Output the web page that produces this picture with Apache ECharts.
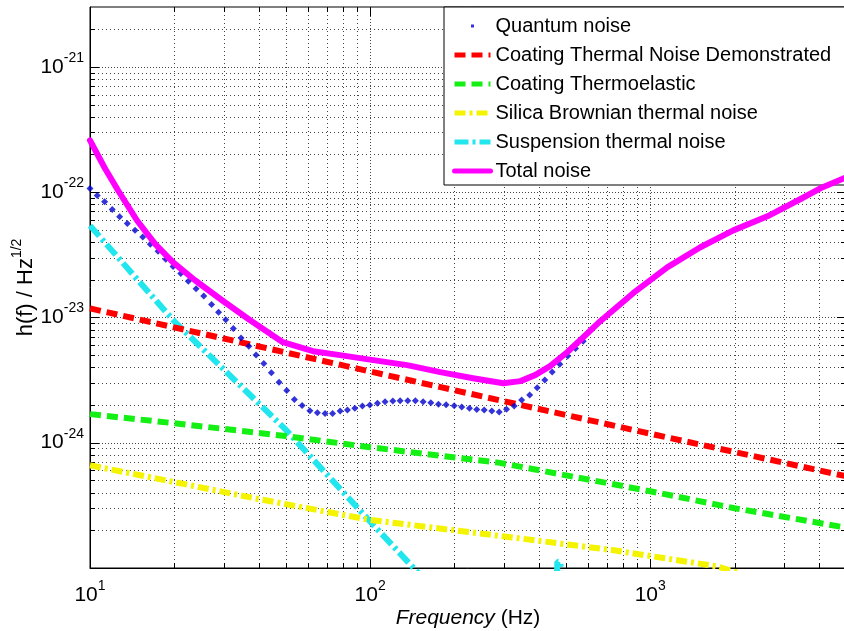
<!DOCTYPE html>
<html>
<head>
<meta charset="utf-8">
<script src="https://cdn.jsdelivr.net/npm/echarts@6/dist/echarts.min.js"></script>
<style>
  html, body { margin: 0; padding: 0; background: #fff; }
  #chart { width: 844px; height: 631px; }
</style>
</head>
<body>
<div id="chart"></div>
<script>
const X_MIN = 10, X_MAX = 5000;
const Y_MIN = 1e-25, Y_MAX = 3e-21;
const FONT = "'Liberation Sans', Arial, Helvetica, sans-serif";

// grid lines (value, major?)
const xGridValues = [20, 30, 40, 50, 60, 70, 80, 90, 100, 200, 300, 400, 500, 600, 700, 800, 900, 1000, 2000, 3000, 4000];
const xGridMajor = [100, 1000];
const yGridValues = [
  2e-25, 3e-25, 4e-25, 5e-25, 6e-25, 7e-25, 8e-25, 9e-25, 1e-24,
  2e-24, 3e-24, 4e-24, 5e-24, 6e-24, 7e-24, 8e-24, 9e-24, 1e-23,
  2e-23, 3e-23, 4e-23, 5e-23, 6e-23, 7e-23, 8e-23, 9e-23, 1e-22,
  2e-22, 3e-22, 4e-22, 5e-22, 6e-22, 7e-22, 8e-22, 9e-22, 1e-21,
  2e-21
];
const yGridMajor = [1e-24, 1e-23, 1e-22, 1e-21];

const seriesNames = [
  "Quantum noise",
  "Coating Thermal Noise Demonstrated",
  "Coating Thermoelastic",
  "Silica Brownian thermal noise",
  "Suspension thermal noise",
  "Total noise"
];

const quantumFreq = [10.0, 10.61, 11.28, 12.01, 12.76, 13.59, 14.48, 15.43, 16.42, 17.50, 18.64, 19.79, 21.09, 22.44, 23.91, 25.47, 27.17, 28.77, 30.52, 32.49, 34.62, 36.89, 39.17, 41.73, 44.41, 47.32, 50.41, 53.67, 57.18, 60.95, 64.82, 69.07, 73.46, 78.14, 82.98, 88.19, 93.87, 99.75, 106.2, 113.1, 120.5, 128.0, 136.3, 145.1, 154.6, 164.7, 175.4, 186.8, 199.6, 212.4, 226.3, 240.3, 255.4, 271.9, 288.9, 306.8, 326.8, 347.5, 371.3, 394.9, 420.4, 446.8, 475.6, 507.5, 541.1, 576.5];
const quantumNoise = [1.07e-22, 9.40e-23, 8.37e-23, 7.26e-23, 6.37e-23, 5.61e-23, 4.96e-23, 4.39e-23, 3.84e-23, 3.37e-23, 2.91e-23, 2.55e-23, 2.24e-23, 1.94e-23, 1.69e-23, 1.48e-23, 1.27e-23, 1.10e-23, 9.57e-24, 8.15e-24, 6.86e-24, 5.89e-24, 5.00e-24, 4.29e-24, 3.61e-24, 3.04e-24, 2.61e-24, 2.21e-24, 1.98e-24, 1.80e-24, 1.73e-24, 1.71e-24, 1.71e-24, 1.79e-24, 1.82e-24, 1.88e-24, 1.96e-24, 2.00e-24, 2.06e-24, 2.12e-24, 2.15e-24, 2.16e-24, 2.16e-24, 2.16e-24, 2.12e-24, 2.08e-24, 2.03e-24, 2.01e-24, 1.97e-24, 1.93e-24, 1.88e-24, 1.84e-24, 1.82e-24, 1.79e-24, 1.76e-24, 1.85e-24, 1.96e-24, 2.19e-24, 2.40e-24, 2.75e-24, 3.17e-24, 3.67e-24, 4.23e-24, 4.92e-24, 5.65e-24, 6.46e-24];

const coatingFreq = [10, 100, 1000, 5000];
const coatingNoise = [1.18e-23, 3.7e-24, 1.18e-24, 5.4e-25];

const thermoelasticFreq = [10, 20, 50, 100, 291, 1000, 2000, 5000];
const thermoelasticNoise = [1.69e-24, 1.43e-24, 1.13e-24, 9.2e-25, 6.9e-25, 4.1e-25, 3.0e-25, 2.1e-25];

const silicaFreq = [10, 20, 40, 100, 311, 731, 1733, 2500];
const silicaNoise = [6.6e-25, 4.85e-25, 3.55e-25, 2.42e-25, 1.77e-25, 1.39e-25, 1.03e-25, 8.0e-26];

const suspensionFreq = [10, 20, 50, 100, 143, 200, 300, 450, 466, 478, 495, 600];
const suspensionNoise = [5.4e-23, 9.3e-24, 1.27e-24, 2.35e-25, 1.0e-25, 4.5e-26, 1.7e-26, 6e-27, 1.12e-25, 1.12e-25, 5e-27, 3e-27];

const totalFreq = [10, 11.3, 12.6, 14.7, 17.1, 19.8, 23.7, 29.6, 37.3, 48.8, 62.5, 78.1, 102.6, 135.6, 178, 233, 299, 344, 388, 439, 505, 577, 663, 869, 1150, 1510, 1980, 2620, 3430, 4110, 5000];
const totalNoise = [2.59e-22, 1.55e-22, 1.03e-22, 5.96e-23, 3.84e-23, 2.75e-23, 1.98e-23, 1.37e-23, 9.5e-24, 6.34e-24, 5.37e-24, 5.0e-24, 4.56e-24, 4.16e-24, 3.66e-24, 3.27e-24, 2.98e-24, 3.1e-24, 3.46e-24, 4.08e-24, 5.27e-24, 6.95e-24, 9.33e-24, 1.56e-23, 2.51e-23, 3.63e-23, 4.95e-23, 6.41e-23, 8.77e-23, 1.09e-22, 1.31e-22];

function zip(xs, ys) {
  return xs.map((x, i) => [x, ys[i]]);
}

function powLabel(v) {
  const l = Math.log10(v);
  const e = Math.round(l);
  if (Math.abs(l - e) > 1e-6) return "";
  return "{b|10}{s|" + e + "}";
}

const gridData = [];
xGridValues.forEach(v => gridData.push([v, Y_MIN, 0, xGridMajor.indexOf(v) >= 0 ? 1 : 0]));
yGridValues.forEach(v => gridData.push([X_MIN, v, 1, yGridMajor.some(m => Math.abs(m - v) / m < 1e-9) ? 1 : 0]));

function renderGrid(params, api) {
  const cs = params.coordSys;
  const major = api.value(3) === 1;
  const len = major ? 9 : 5;
  const dotted = { stroke: "#444", lineWidth: 1, lineDash: major ? [1, 2] : [1, 3] };
  const solid = { stroke: "#000", lineWidth: 1 };
  const left = cs.x, right = cs.x + cs.width, top = cs.y, bottom = cs.y + cs.height;
  if (api.value(2) === 0) {
    const x = Math.round(api.coord([api.value(0), Y_MIN])[0]) + 0.5;
    return {
      type: "group",
      children: [
        { type: "line", shape: { x1: x, y1: top, x2: x, y2: bottom }, style: dotted },
        { type: "line", shape: { x1: x, y1: bottom, x2: x, y2: bottom - len }, style: solid },
        { type: "line", shape: { x1: x, y1: top, x2: x, y2: top + len }, style: solid }
      ]
    };
  }
  const y = Math.round(api.coord([X_MIN, api.value(1)])[1]) + 0.5;
  return {
    type: "group",
    children: [
      { type: "line", shape: { x1: left, y1: y, x2: right, y2: y }, style: dotted },
      { type: "line", shape: { x1: left, y1: y, x2: left + len, y2: y }, style: solid },
      { type: "line", shape: { x1: right, y1: y, x2: right - len, y2: y }, style: solid }
    ]
  };
}

// legend entry for a line series: just the stroke, no marker
function lineEntry(name) {
  return {
    name: name,
    itemStyle: { color: "rgba(0,0,0,0)", opacity: 0, borderWidth: 0 },
    lineStyle: { width: 5 }
  };
}

const chart = echarts.init(document.getElementById("chart"), null, { renderer: "canvas" });

chart.setOption({
  animation: false,
  backgroundColor: "#fff",
  textStyle: { fontFamily: FONT },
  grid: {
    left: 90,
    top: 7,
    width: 756,
    height: 561,
    show: true,
    borderColor: "#000",
    borderWidth: 1,
    backgroundColor: "#fff",
    containLabel: false,
    outerBoundsMode: "none"
  },
  legend: {
    orient: "vertical",
    left: 444,
    top: 7,
    itemWidth: 36,
    itemHeight: 14,
    itemGap: 9,
    padding: [9, 30, 4, 8],
    backgroundColor: "#fff",
    borderColor: "#000",
    borderWidth: 1,
    borderRadius: 0,
    selectedMode: false,
    textStyle: { fontSize: 20, color: "#000", fontFamily: FONT },
    data: [
      { name: seriesNames[0], icon: "path://M0,0M36,14M16.5,5.5L19.5,5.5L19.5,8.5L16.5,8.5Z" },
      lineEntry(seriesNames[1]),
      lineEntry(seriesNames[2]),
      lineEntry(seriesNames[3]),
      lineEntry(seriesNames[4]),
      lineEntry(seriesNames[5])
    ]
  },
  xAxis: {
    type: "log",
    logBase: 10,
    min: X_MIN,
    max: X_MAX,
    name: "{i|Frequency} (Hz)",
    nameLocation: "middle",
    nameGap: 40,
    nameMoveOverlap: false,
    nameTextStyle: {
      fontSize: 21,
      color: "#000",
      fontFamily: FONT,
      rich: { i: { fontSize: 21, fontStyle: "italic", color: "#000", fontFamily: FONT } }
    },
    axisLine: { show: true, lineStyle: { color: "#000", width: 1 } },
    axisTick: { show: false },
    splitLine: { show: false },
    axisLabel: {
      formatter: powLabel,
      margin: 11,
      color: "#000",
      showMaxLabel: false,
      rich: {
        b: { fontSize: 21, fontFamily: FONT, color: "#000" },
        s: { fontSize: 14, fontFamily: FONT, color: "#000", padding: [0, 0, 18, 0] }
      }
    }
  },
  yAxis: {
    type: "log",
    logBase: 10,
    min: Y_MIN,
    max: Y_MAX,
    name: "{n|h(f) / Hz}{s|1/2}",
    nameLocation: "middle",
    nameGap: 48,
    nameMoveOverlap: false,
    nameTextStyle: {
      color: "#000",
      rich: {
        n: { fontSize: 22, fontFamily: FONT, color: "#000" },
        s: { fontSize: 14, fontFamily: FONT, color: "#000", padding: [0, 0, 18, 0] }
      }
    },
    axisLine: { show: true, lineStyle: { color: "#000", width: 1 } },
    axisTick: { show: false },
    splitLine: { show: false },
    axisLabel: {
      formatter: powLabel,
      margin: 6,
      color: "#000",
      showMaxLabel: false,
      rich: {
        b: { fontSize: 21, fontFamily: FONT, color: "#000" },
        s: { fontSize: 14, fontFamily: FONT, color: "#000", padding: [0, 0, 18, 0] }
      }
    }
  },
  series: [
    {
      name: "grid",
      type: "custom",
      silent: true,
      z: 1,
      renderItem: renderGrid,
      data: gridData
    },
    {
      name: seriesNames[4],
      type: "line",
      z: 3,
      symbol: "none",
      data: zip(suspensionFreq, suspensionNoise),
      itemStyle: { color: "#22e6ee" },
      lineStyle: { color: "#22e6ee", width: 6, type: [14, 4, 3, 4] }
    },
    {
      name: seriesNames[3],
      type: "line",
      z: 3,
      symbol: "none",
      data: zip(silicaFreq, silicaNoise),
      itemStyle: { color: "#f4f400" },
      lineStyle: { color: "#f4f400", width: 6, type: [11, 4, 3, 4] }
    },
    {
      name: seriesNames[2],
      type: "line",
      z: 3,
      symbol: "none",
      data: zip(thermoelasticFreq, thermoelasticNoise),
      itemStyle: { color: "#14f014" },
      lineStyle: { color: "#14f014", width: 6, type: [11, 6] }
    },
    {
      name: seriesNames[1],
      type: "line",
      z: 3,
      symbol: "none",
      data: zip(coatingFreq, coatingNoise),
      itemStyle: { color: "#ff0000" },
      lineStyle: { color: "#ff0000", width: 6, type: [11, 6] }
    },
    {
      name: seriesNames[0],
      type: "scatter",
      z: 4,
      symbol: "diamond",
      symbolSize: 7,
      data: zip(quantumFreq, quantumNoise),
      itemStyle: { color: "#0000d0" }
    },
    {
      name: seriesNames[5],
      type: "line",
      z: 5,
      symbol: "none",
      data: zip(totalFreq, totalNoise),
      itemStyle: { color: "#ff00ff" },
      lineStyle: { color: "#ff00ff", width: 6, cap: "round", join: "round" }
    }
  ]
});
</script>
</body>
</html>
